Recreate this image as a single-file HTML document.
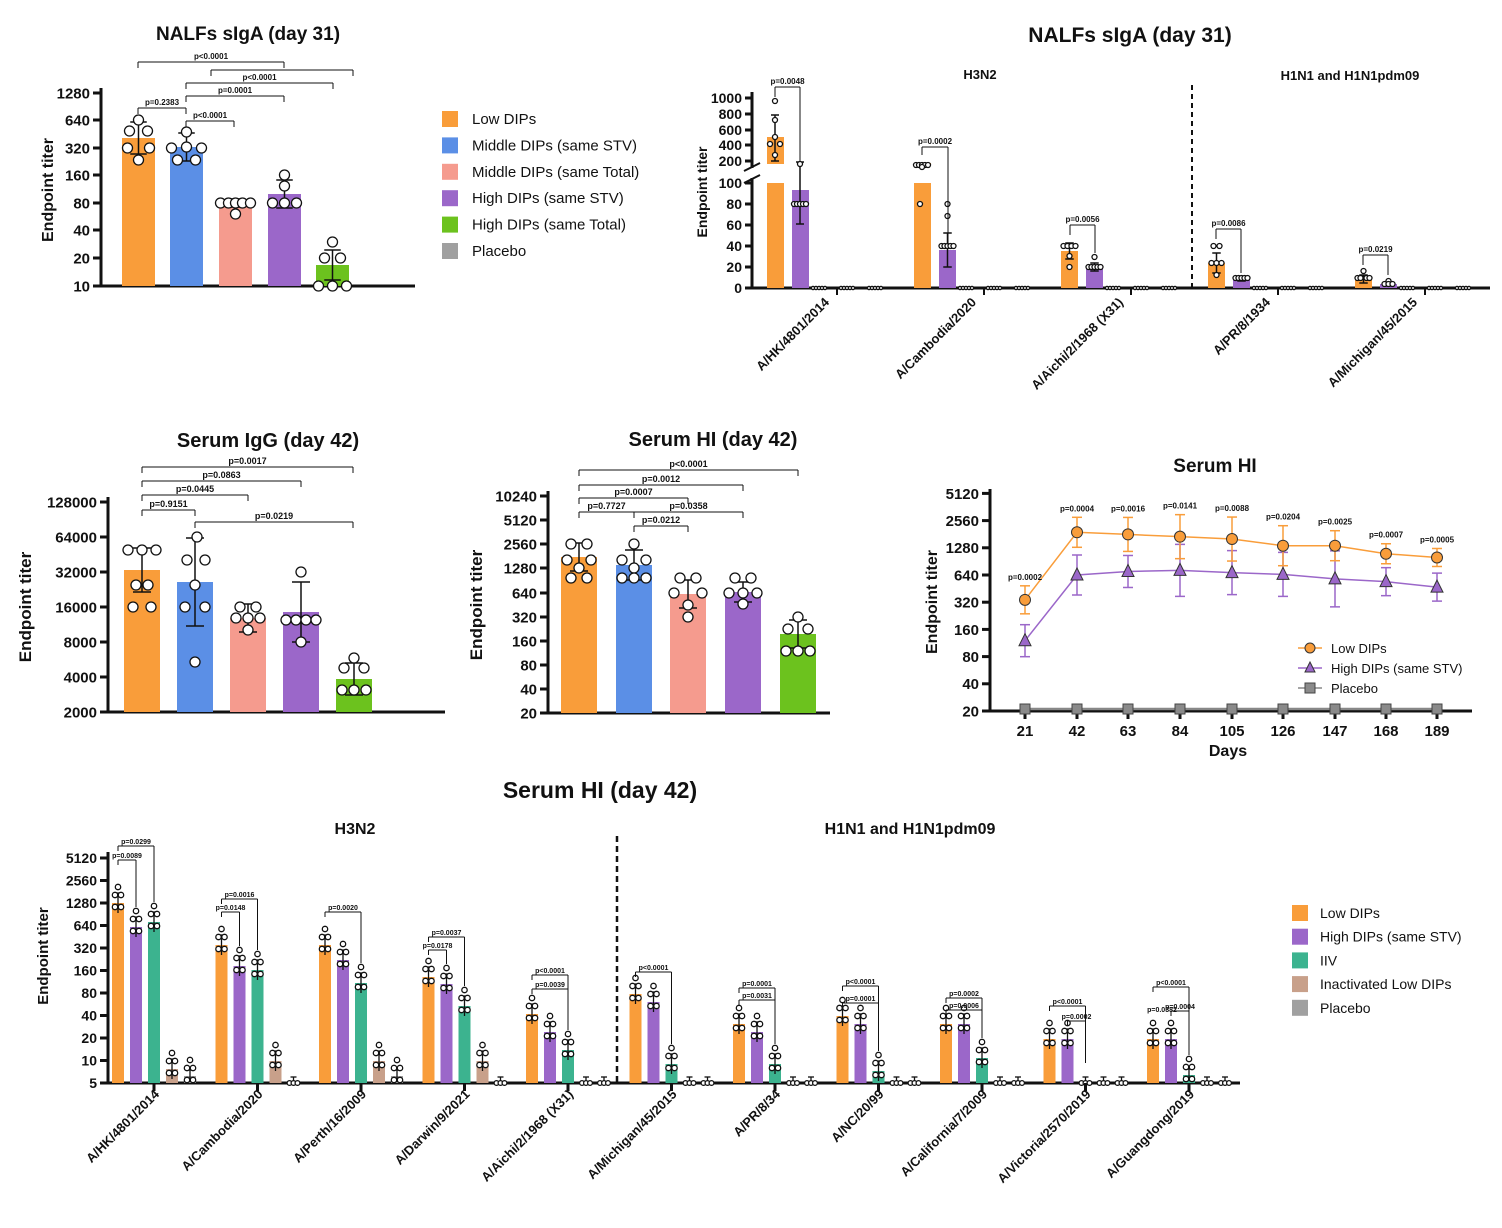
<!DOCTYPE html>
<html><head><meta charset="utf-8">
<style>
html,body{margin:0;padding:0;background:#fff;}
svg{display:block;font-family:"Liberation Sans",Arial,sans-serif;}
</style></head>
<body>
<svg id="s" width="1502" height="1228" viewBox="0 0 1502 1228" xmlns="http://www.w3.org/2000/svg"></svg>
<script>
const S=document.getElementById('s');let h='';
const C={o:'#F99D3A',b:'#5B8FE6',s:'#F59B8E',p:'#9B67C9',g:'#6CC21E',gr:'#A0A0A0',t:'#3CB38F',br:'#C8A08A'};
function T(x,y,t,sz,opt){opt=opt||{};h+=`<text x="${x}" y="${y}" font-size="${sz}" font-weight="${opt.w||'bold'}" text-anchor="${opt.a||'middle'}" fill="#111"${opt.tr?` transform="${opt.tr}"`:''}>${t}</text>`;}
function L(x1,y1,x2,y2,w,c,d){h+=`<line x1="${x1}" y1="${y1}" x2="${x2}" y2="${y2}" stroke="${c||'#111'}" stroke-width="${w||1}"${d?` stroke-dasharray="${d}"`:''}/>`;}
function R(x,y,w,hh,c){h+=`<rect x="${x}" y="${y}" width="${w}" height="${hh}" fill="${c}"/>`;}
function Ci(x,y,r){h+=`<circle cx="${x}" cy="${y}" r="${r||4}" fill="#fff" stroke="#111" stroke-width="1.3"/>`;}
function yaxis(x,y0,y1,ticks,sz){L(x,y0,x,y1,3);ticks.forEach(([l,y])=>{L(x-8,y,x,y,3);T(x-11,y+sz*0.36,l,sz,{a:'end'});});}
function bar(x,w,top,base,c,err,dots,r){R(x,top,w,base-top,c);const cx=x+w/2;
 if(err){L(cx,top-err,cx,Math.min(base,top+err),1.5);L(cx-w/4,top-err,cx+w/4,top-err,1.5);L(cx-w/4,Math.min(base,top+err),cx+w/4,Math.min(base,top+err),1.5);}
 (dots||[]).forEach(([dx,dy])=>Ci(cx+dx,dy,r));}
function brk(x1,x2,y,t,sz,d1,d2){L(x1,y+(d1||6),x1,y,1);L(x1,y,x2,y,1);L(x2,y,x2,y+(d2||6),1);if(t)T((x1+x2)/2,y-3,t,sz||8);}
function ylab(x,y,sz){T(x,y,'Endpoint titer',sz,{tr:`rotate(-90 ${x} ${y})`});}

// ===== Panel A =====
T(248,40,'NALFs sIgA (day 31)',19);
ylab(53,190,16);
yaxis(101,88,286,[['1280',93],['640',120],['320',148],['160',175],['80',203],['40',230],['20',258],['10',286]],15);
L(99,286,415,286,3);
bar(122,33,138,286,C.o,16,[[0,120],[-9,131],[9,131],[-11,148],[11,148],[0,160]],5);
bar(170,33,147,286,C.b,14,[[0,132],[-15,148],[0,147],[15,148],[-9,160],[9,160]],5);
bar(219,33,203,286,C.s,4,[[-15,203],[-7,203],[0,203],[7,203],[15,203],[0,214]],5);
bar(268,33,194,286,C.p,14,[[0,175],[0,186],[-12,203],[0,203],[12,203]],5);
bar(316,33,265,286,C.g,15,[[0,242],[-8,258],[8,258],[-14,286],[0,286],[14,286]],5);
brk(138,284,62,'p&lt;0.0001',8);
brk(211,353,70,'',8);
brk(186,333,83,'p&lt;0.0001',8);
brk(186,284,96,'p=0.0001',8);
brk(138,186,108,'p=0.2383',8);
brk(186,234,121,'p&lt;0.0001',8);
// legend A
[['Low DIPs',C.o],['Middle DIPs (same STV)',C.b],['Middle DIPs (same Total)',C.s],['High DIPs (same STV)',C.p],['High DIPs (same Total)',C.g],['Placebo',C.gr]].forEach(([t,c],i)=>{const y=119+i*26.4;R(442,y-8,16,16,c);T(472,y+5,t,15,{a:'start',w:'normal'});});

// ===== Panel B =====
T(1130,42,'NALFs sIgA (day 31)',21);
T(980,79,'H3N2',13);T(1350,80,'H1N1 and H1N1pdm09',13);
ylab(707,192,14);
L(752,92,752,168,3);L(752,177,752,288,3);
[['1000',98],['800',114],['600',130],['400',145],['200',161]].forEach(([l,y])=>{L(745,y,752,y,3);T(742,y+5,l,14,{a:'end'});});
[['100',183],['80',204],['60',225],['40',246],['20',267],['0',288]].forEach(([l,y])=>{L(745,y,752,y,3);T(742,y+5,l,14,{a:'end'});});
L(752,288,1490,288,3);
h+=`<rect x="750" y="164" width="740" height="16" fill="#fff"/>`;
L(752,162,752,168,3);L(752,178,752,184,3);
L(744,171,760,163,2);L(744,183,760,175,2);
// group 1
R(767,137,17,27,C.o);R(767,183,17,105,C.o);L(775,115,775,161,1.5);L(771,115,779,115,1.5);L(771,161,779,161,1.5);
[[0,101],[0,120],[0,137],[-5,144],[5,144],[0,155]].forEach(([a,b])=>Ci(775+a,b,2.5));
R(792,190,17,98,C.p);L(800,161,800,224,1.5);L(796,224,804,224,1.5);L(796,162,804,162,1.5);Ci(800,164,2.5);
[-6,-3,0,3,6].forEach(d=>Ci(800+d,204,2.5));
[819,847,875].forEach(x=>{for(let k=0;k<5;k++)Ci(x-6+k*3,288,1.6);});L(837,288,837,295,2);
brk(775,800,87,'p=0.0048',8,10,75);
// group 2
R(914,163,17,1,C.o);R(914,183,17,105,C.o);[-6,-3,0,3,6].forEach(d=>Ci(922+d,165,2.5));Ci(922,167,2.5);Ci(920,204,2.5);
bar(939,17,250,288,C.p,17,[[0,204],[0,216],[-6,246],[-3,246],[0,246],[3,246],[6,246]],2.5);
[966,994,1022].forEach(x=>{for(let k=0;k<5;k++)Ci(x-6+k*3,288,1.6);});L(984,288,984,295,2);
brk(922,948,147,'p=0.0002',8,8,100);
// group 3
bar(1061,17,251,288,C.o,8,[[-6,246],[-2,246],[2,246],[6,246],[0,256],[0,267]],2.5);
bar(1086,17,267,288,C.p,4,[[0,257],[-6,267],[-3,267],[0,267],[3,267],[6,267]],2.5);
[1113,1141,1169].forEach(x=>{for(let k=0;k<5;k++)Ci(x-6+k*3,288,1.6);});L(1131,288,1131,295,2);
brk(1070,1095,225,'p=0.0056',8,10,28);
L(1192,85,1192,288,2,'#111','5,4');
// group 4
bar(1208,17,263,288,C.o,10,[[-3,246],[3,246],[-5,263],[0,263],[5,263],[0,275]],2.5);
bar(1233,17,279,288,C.p,2,[[-6,278],[-3,278],[0,278],[3,278],[6,278]],2.5);
[1260,1288,1316].forEach(x=>{for(let k=0;k<5;k++)Ci(x-6+k*3,288,1.6);});L(1278,288,1278,295,2);
brk(1216,1241,229,'p=0.0086',8,10,44);
// group 5
bar(1355,17,279,288,C.o,4,[[0,271],[-6,278],[-3,278],[3,278],[6,278]],2.5);
bar(1380,17,284,288,C.p,2,[[0,281],[-4,284],[0,284],[4,284]],2.5);
[1407,1435,1463].forEach(x=>{for(let k=0;k<5;k++)Ci(x-6+k*3,288,1.6);});L(1425,288,1425,295,2);
brk(1363,1388,255,'p=0.0219',8,10,20);
[['A/HK/4801/2014',830],['A/Cambodia/2020',977],['A/Aichi/2/1968 (X31)',1124],['A/PR/8/1934',1271],['A/Michigan/45/2015',1418]].forEach(([t,x])=>T(x,303,t,13,{a:'end',tr:`rotate(-45 ${x} 303)`}));

// ===== Panel C =====
T(268,447,'Serum IgG (day 42)',20);
ylab(31,607,17);
yaxis(108,497,712,[['128000',502],['64000',537],['32000',572],['16000',607],['8000',642],['4000',677],['2000',712]],15);
L(106,712,445,712,3);
bar(124,36,570,712,C.o,22,[[-14,550],[0,550],[14,550],[-6,585],[6,585],[-9,607],[9,607]],5);
bar(177,36,582,712,C.b,44,[[2,537],[-8,560],[10,560],[0,585],[-10,607],[10,607],[0,662]],5);
bar(230,36,618,712,C.s,14,[[-8,607],[8,607],[-12,618],[0,618],[12,618],[0,630]],5);
bar(283,36,612,712,C.p,30,[[0,572],[-15,620],[-5,620],[5,620],[15,620],[0,642]],5);
bar(336,36,679,712,C.g,16,[[0,658],[-10,668],[10,668],[-12,690],[0,690],[12,690]],5);
brk(142,353,467,'p=0.0017',9);
brk(142,301,481,'p=0.0863',9);
brk(142,248,495,'p=0.0445',9);
brk(142,195,510,'p=0.9151',9);
brk(195,353,522,'p=0.0219',9);

// ===== Panel D =====
T(713,446,'Serum HI (day 42)',20);
ylab(482,605,17);
yaxis(548,491,713,[['10240',496],['5120',520],['2560',544],['1280',568],['640',593],['320',617],['160',641],['80',665],['40',689],['20',713]],15);
L(546,713,830,713,3);
bar(561,36,557,713,C.o,14,[[-8,544],[8,544],[-12,560],[12,560],[0,568],[-8,578],[8,578]],5);
bar(616,36,565,713,C.b,15,[[0,544],[-12,560],[12,560],[0,568],[-12,578],[0,578],[12,578]],5);
bar(670,36,594,713,C.s,14,[[-8,578],[8,578],[-14,593],[14,593],[0,617],[0,605]],5);
bar(725,36,592,713,C.p,10,[[-8,578],[8,578],[-14,593],[0,593],[14,593],[0,604]],5);
bar(780,36,634,713,C.g,14,[[0,617],[-10,629],[10,629],[-12,651],[0,651],[12,651]],5);
brk(579,798,470,'p&lt;0.0001',9);
brk(579,743,485,'p=0.0012',9);
brk(579,688,498,'p=0.0007',9);
brk(579,634,512,'p=0.7727',9);
brk(634,743,512,'p=0.0358',9);
brk(634,688,526,'p=0.0212',9);

// ===== Panel E =====
T(1215,472,'Serum HI',19);
ylab(937,602,16);
const ye=v=>711-27.2*Math.log2(v/20);
yaxis(990,489,711,[['5120',ye(5120)],['2560',ye(2560)],['1280',ye(1280)],['640',ye(640)],['320',ye(320)],['160',ye(160)],['80',ye(80)],['40',ye(40)],['20',711]],15);
const xs=[1025,1077,1128,1180,1232,1283,1335,1386,1437];
L(988,711,1472,711,3);
xs.forEach((x,i)=>{L(x,711,x,719,3);T(x,736,[21,42,63,84,105,126,147,168,189][i],15);});
T(1228,756,'Days',16);
L(1025,709,1437,709,2.5,'#888');
xs.forEach(x=>{h+=`<rect x="${x-5}" y="${704}" width="10" height="10" fill="#8a8a8a" stroke="#444" stroke-width="1"/>`;});
const ov=[340,1900,1800,1700,1600,1350,1350,1100,1000],pv=[120,640,700,720,680,650,580,540,470];
const oe=[14,15,17,22,22,20,15,10,9],pe=[16,20,16,26,22,22,28,14,14];
h+=`<polyline points="${xs.map((x,i)=>x+','+ye(pv[i])).join(' ')}" fill="none" stroke="${C.p}" stroke-width="1.5"/>`;
h+=`<polyline points="${xs.map((x,i)=>x+','+ye(ov[i])).join(' ')}" fill="none" stroke="${C.o}" stroke-width="1.5"/>`;
xs.forEach((x,i)=>{let y=ye(pv[i]),e=pe[i];L(x,y-e,x,y+e,1.5,C.p);L(x-5,y-e,x+5,y-e,1.5,C.p);L(x-5,y+e,x+5,y+e,1.5,C.p);
 h+=`<polygon points="${x},${y-7} ${x-6},${y+5} ${x+6},${y+5}" fill="${C.p}" stroke="#333" stroke-width="1"/>`;
 y=ye(ov[i]);e=oe[i];L(x,y-e,x,y+e,1.5,C.o);L(x-5,y-e,x+5,y-e,1.5,C.o);L(x-5,y+e,x+5,y+e,1.5,C.o);
 h+=`<circle cx="${x}" cy="${y}" r="5.5" fill="${C.o}" stroke="#333" stroke-width="1"/>`;});
['p=0.0002','p=0.0004','p=0.0016','p=0.0141','p=0.0088','p=0.0204','p=0.0025','p=0.0007','p=0.0005'].forEach((t,i)=>T(xs[i],ye(ov[i])-oe[i]-6,t,8));
L(1298,648,1322,648,1.5,C.o);h+=`<circle cx="1310" cy="648" r="5" fill="${C.o}" stroke="#333"/>`;T(1331,653,'Low DIPs',13,{a:'start',w:'normal'});
L(1298,668,1322,668,1.5,C.p);h+=`<polygon points="1310,662 1305,672 1315,672" fill="${C.p}" stroke="#333"/>`;T(1331,673,'High DIPs (same STV)',13,{a:'start',w:'normal'});
L(1298,688,1322,688,1.5,'#888');h+=`<rect x="1305" y="683" width="10" height="10" fill="#8a8a8a" stroke="#444"/>`;T(1331,693,'Placebo',13,{a:'start',w:'normal'});

// ===== Panel F =====
T(600,798,'Serum HI (day 42)',23);
T(355,834,'H3N2',16);T(910,834,'H1N1 and H1N1pdm09',16);
ylab(48,956,15);
const yf=v=>1083-22.5*Math.log2(v/5);
yaxis(108,852,1083,[['5120',yf(5120)],['2560',yf(2560)],['1280',yf(1280)],['640',yf(640)],['320',yf(320)],['160',yf(160)],['80',yf(80)],['40',yf(40)],['20',yf(20)],['10',yf(10)],['5',1083]],14);
L(106,1083,1240,1083,3);
L(617,836,617,1083,2.5,'#111','6,4');
const tops=[[903,927,922,1069,1076],[945,966,970,1061,1083],[945,960,983,1061,1076],[977,984,1006,1061,1083],[1014,1032,1050,1083,1083],[994,1002,1064,1083,1083],[1024,1032,1064,1083,1083],[1016,1024,1071,1083,1083],[1024,1024,1058,1083,1083],[1039,1039,1083,1083,1083],[1039,1039,1075,1083,1083]];
const cols=[C.o,C.p,C.t,C.br,C.gr];
const names=['A/HK/4801/2014','A/Cambodia/2020','A/Perth/16/2009','A/Darwin/9/2021','A/Aichi/2/1968 (X31)','A/Michigan/45/2015','A/PR/8/34','A/NC/20/99','A/California/7/2009','A/Victoria/2570/2019','A/Guangdong/2019'];
tops.forEach((g,k)=>{const x0=112+103.5*k;
 g.forEach((tp,j)=>{const x=x0+18*j;const cx=x+6;
  if(tp<1083)R(x,tp,12,1083-tp,cols[j]);
  const e=tp<1075?10:6;L(cx,tp-e,cx,Math.min(1083,tp+e),1.3);L(cx-3,tp-e,cx+3,tp-e,1.3);
  if(tp<1080){Ci(cx-3,tp-8,2.7);Ci(cx+3,tp-8,2.7);Ci(cx-3,tp+4,2.7);Ci(cx+3,tp+4,2.7);Ci(cx,tp-16,2.7);}
  else{Ci(cx-4,1083,2.4);Ci(cx,1083,2.4);Ci(cx+4,1083,2.4);}
 });
 L(x0+42,1083,x0+42,1091,3);
 T(x0+48,1095,names[k],13,{a:'end',tr:`rotate(-45 ${x0+48} 1095)`});
});
const pf=[[['p=0.0089',860,1],['p=0.0299',846,2]],[['p=0.0148',912,1],['p=0.0016',899,2]],[['p=0.0020',912,2]],[['p=0.0178',950,1],['p=0.0037',937,2]],[['p=0.0039',989,2],['p&lt;0.0001',975,2]],[['p&lt;0.0001',972,2]],[['p=0.0031',1000,2],['p=0.0001',988,2]],[['p=0.0001',1003,2],['p&lt;0.0001',986,2]],[['p=0.0006',1010,2],['p=0.0002',998,2]],[['p=0.0002',1021,2],['p&lt;0.0001',1006,2]],[['p=0.0004',1011,2],['p&lt;0.0001',987,2]]];
pf.forEach((arr,k)=>{const x0=112+103.5*k+6;arr.forEach(([t,y,j],i)=>{const x1=(k>=8&&i==0&&k!=8)?x0+18:x0;const x2=x0+18*j;
 L(x1,y,x2,y,1);L(x1,y,x1,y+5,1);L(x2,y,x2,tops[k][j]-20,1);T((x1+x2)/2,y-2,t,7);});});
T(1162,1012,'p=0.0382',7);
[['Low DIPs',C.o],['High DIPs (same STV)',C.p],['IIV',C.t],['Inactivated Low DIPs',C.br],['Placebo',C.gr]].forEach(([t,c],i)=>{const y=913+i*23.7;R(1292,y-8,16,16,c);T(1320,y+5,t,14,{a:'start',w:'normal'});});

S.innerHTML=h;
</script>
</body></html>
